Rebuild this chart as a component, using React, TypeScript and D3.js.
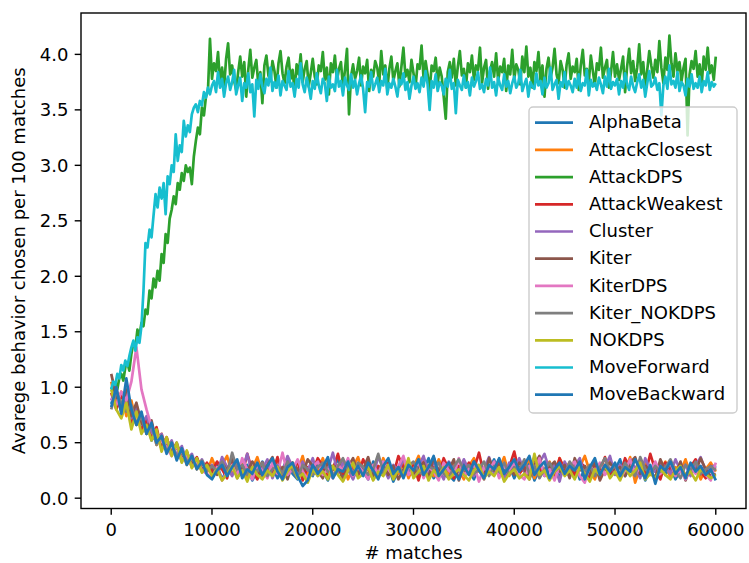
import React from "react";
import * as d3 from "d3";

// behaviour usage, one value per sample; samples are evenly spread over 0..60000 matches
const MAX_MATCHES = 60000;

const alphaBeta = [
  0.85, 0.98, 0.78, 0.9, 0.7, 0.8, 0.64, 0.72, 0.52, 0.6,
  0.45, 0.54, 0.4, 0.48, 0.33, 0.42, 0.28, 0.36, 0.24, 0.31,
  0.21, 0.29, 0.17, 0.26, 0.32, 0.2, 0.24, 0.3, 0.16, 0.25,
  0.33, 0.21, 0.28, 0.18, 0.26, 0.36, 0.22, 0.17, 0.29, 0.24,
  0.2, 0.32, 0.25, 0.16, 0.28, 0.35, 0.21, 0.26, 0.18, 0.3,
  0.24, 0.17, 0.33, 0.26, 0.21, 0.29, 0.15, 0.25, 0.32, 0.22,
  0.28, 0.2, 0.26, 0.36, 0.18, 0.25, 0.3, 0.21, 0.16, 0.28,
  0.32, 0.24, 0.17, 0.29, 0.22, 0.26, 0.35, 0.2, 0.25, 0.29,
  0.18, 0.28, 0.24, 0.32, 0.16, 0.26, 0.21, 0.3, 0.25, 0.2,
  0.29, 0.22, 0.33, 0.17, 0.26, 0.24, 0.32, 0.18, 0.28, 0.21,
  0.25, 0.35, 0.2, 0.28, 0.22, 0.3, 0.16, 0.26, 0.24, 0.32,
  0.21, 0.28, 0.17, 0.25, 0.33, 0.22, 0.29, 0.2, 0.26, 0.24,
  0.29,
];

const attackClosest = [
  1.05, 0.84, 0.96, 0.74, 0.88, 0.66, 0.76, 0.58, 0.68, 0.48,
  0.58, 0.42, 0.5, 0.36, 0.44, 0.3, 0.38, 0.26, 0.34, 0.23,
  0.36, 0.24, 0.3, 0.38, 0.21, 0.28, 0.33, 0.18, 0.26, 0.37,
  0.22, 0.29, 0.25, 0.35, 0.17, 0.28, 0.32, 0.24, 0.38, 0.2,
  0.3, 0.25, 0.36, 0.21, 0.29, 0.24, 0.33, 0.17, 0.28, 0.37,
  0.21, 0.32, 0.26, 0.2, 0.36, 0.25, 0.29, 0.22, 0.33, 0.18,
  0.28, 0.38, 0.24, 0.3, 0.2, 0.35, 0.26, 0.22, 0.32, 0.25,
  0.17, 0.29, 0.36, 0.24, 0.28, 0.21, 0.32, 0.26, 0.37, 0.2,
  0.3, 0.22, 0.28, 0.35, 0.18, 0.29, 0.25, 0.33, 0.21, 0.36,
  0.26, 0.32, 0.2, 0.28, 0.38, 0.24, 0.17, 0.3, 0.26, 0.35,
  0.22, 0.29, 0.25, 0.37, 0.14, 0.28, 0.32, 0.21, 0.3, 0.25,
  0.33, 0.18, 0.28, 0.24, 0.35, 0.21, 0.29, 0.17, 0.26, 0.32,
  0.24,
];

const attackDPS = [
  1.0, 0.96, 1.04, 0.98, 1.08, 1.12, 1.06, 1.18, 1.22, 1.15,
  1.3, 1.4, 1.36, 1.52, 1.46, 1.58, 1.55, 1.7, 1.66, 1.87,
  1.8, 1.98, 1.9, 2.05, 1.96, 2.2, 2.12, 2.38, 2.3, 2.52,
  2.6, 2.72, 2.65, 2.84, 2.78, 2.93, 2.86, 3.0, 2.94, 2.98,
  2.83, 3.08, 3.22, 3.34, 3.28, 3.52, 3.45, 3.62, 3.67, 4.14,
  3.78, 3.92, 3.85, 4.02, 3.74, 3.88, 3.7, 3.96, 4.1, 3.82,
  3.9, 3.76, 3.68, 3.84, 3.98, 3.8, 3.93, 3.62, 3.86, 4.04,
  3.79, 3.88, 3.95, 3.72, 3.84, 3.56, 3.9, 3.99, 3.81, 3.76,
  3.94, 3.85, 3.7, 3.92, 4.03, 3.83, 3.74, 3.89, 3.97, 3.78,
  3.86, 3.66, 3.91, 3.82, 4.0, 3.75, 3.87, 3.94, 3.71, 3.83,
  3.96, 3.8, 3.73, 3.9, 3.85, 4.02, 3.77, 3.88, 3.64, 3.92,
  3.84, 3.99, 3.76, 3.87, 3.93, 3.7, 3.86, 4.05, 3.46, 3.8,
  3.91, 3.78, 3.85, 3.97, 3.72, 3.89, 3.83, 3.95, 3.67, 3.86,
  3.8, 3.94, 3.88, 3.74, 4.03, 3.82, 3.9, 3.69, 3.87, 3.98,
  3.76, 3.85, 3.92, 3.71, 3.89, 4.06, 3.8, 3.86, 3.75, 3.95,
  3.83, 3.7, 3.91, 3.87, 4.08, 3.78, 3.94, 3.82, 3.66, 3.9,
  3.85, 3.97, 3.74, 3.88, 3.8, 3.62, 3.42, 3.84, 3.93, 3.79,
  3.96, 3.72, 3.89, 4.03, 3.81, 3.87, 3.7, 3.92, 3.84, 3.99,
  3.77, 3.9, 3.86, 4.06, 3.74, 3.88, 3.95, 3.69, 3.85, 3.93,
  3.8, 4.01, 3.76, 3.89, 3.84, 3.96, 3.67, 3.9, 3.82, 4.04,
  3.78, 3.91, 3.86, 3.73, 3.98, 3.84, 4.07, 3.8, 3.88, 3.7,
  3.93, 3.85, 4.02, 3.76, 3.9, 3.62, 3.87, 3.97, 3.79, 3.88,
  4.05, 3.82, 3.74, 3.94, 3.86, 3.7, 3.91, 4.01, 3.78, 3.89,
  3.84, 3.96, 3.68, 3.9, 4.04, 3.81, 3.87, 3.75, 3.99, 3.85,
  3.72, 3.92, 3.86, 4.06, 3.79, 3.88, 3.95, 3.7, 3.84, 4.02,
  3.8, 3.91, 3.77, 3.87, 3.98, 3.66, 3.89, 4.05, 3.83, 3.94,
  3.76, 3.88, 4.09, 3.82, 3.93, 3.71, 3.86, 4.03, 3.9, 3.79,
  3.95, 3.84, 4.12, 3.88, 3.74, 3.97, 3.86, 4.17, 3.92, 3.8,
  4.01, 3.85, 3.93, 3.76, 3.88, 3.96, 3.27, 3.82, 3.94, 3.87,
  4.03, 3.8, 3.91, 3.72, 3.98, 3.86, 4.06, 3.83, 3.9, 3.77,
  3.98,
];

const attackWeakest = [
  0.95, 0.8, 0.92, 0.86, 0.68, 0.78, 0.62, 0.7, 0.54, 0.64,
  0.44, 0.55, 0.4, 0.47, 0.34, 0.42, 0.29, 0.37, 0.25, 0.32,
  0.24, 0.33, 0.26, 0.18, 0.36, 0.29, 0.21, 0.4, 0.25, 0.17,
  0.32, 0.26, 0.22, 0.37, 0.2, 0.3, 0.25, 0.33, 0.16, 0.28,
  0.24, 0.36, 0.29, 0.18, 0.26, 0.4, 0.22, 0.3, 0.25, 0.2,
  0.35, 0.26, 0.17, 0.29, 0.24, 0.32, 0.21, 0.38, 0.28, 0.22,
  0.3, 0.16, 0.33, 0.25, 0.28, 0.21, 0.36, 0.26, 0.18, 0.29,
  0.24, 0.32, 0.26, 0.41, 0.21, 0.29, 0.25, 0.35, 0.17, 0.28,
  0.42, 0.22, 0.29, 0.2, 0.37, 0.26, 0.24, 0.3, 0.18, 0.36,
  0.25, 0.29, 0.21, 0.33, 0.28, 0.17, 0.32, 0.25, 0.37, 0.22,
  0.29, 0.2, 0.36, 0.26, 0.24, 0.33, 0.21, 0.4, 0.25, 0.17,
  0.32, 0.26, 0.22, 0.3, 0.2, 0.28, 0.35, 0.24, 0.18, 0.29,
  0.26,
];

const cluster = [
  0.88, 1.0, 0.8, 0.92, 0.72, 0.84, 0.66, 0.74, 0.6, 0.52,
  0.58, 0.44, 0.52, 0.38, 0.47, 0.33, 0.4, 0.27, 0.35, 0.24,
  0.3, 0.22, 0.37, 0.28, 0.2, 0.32, 0.25, 0.4, 0.21, 0.29,
  0.26, 0.35, 0.18, 0.3, 0.24, 0.38, 0.28, 0.21, 0.33, 0.25,
  0.36, 0.2, 0.29, 0.25, 0.41, 0.22, 0.32, 0.26, 0.17, 0.3,
  0.25, 0.33, 0.21, 0.37, 0.28, 0.18, 0.3, 0.24, 0.35, 0.26,
  0.2, 0.29, 0.38, 0.22, 0.32, 0.26, 0.17, 0.33, 0.28, 0.24,
  0.35, 0.25, 0.2, 0.3, 0.26, 0.37, 0.22, 0.29, 0.18, 0.32,
  0.26, 0.36, 0.24, 0.28, 0.21, 0.32, 0.4, 0.25, 0.3, 0.15,
  0.33, 0.24, 0.29, 0.36, 0.2, 0.26, 0.32, 0.22, 0.28, 0.38,
  0.21, 0.3, 0.25, 0.33, 0.28, 0.18, 0.36, 0.26, 0.24, 0.32,
  0.28, 0.22, 0.35, 0.25, 0.3, 0.2, 0.29, 0.37, 0.24, 0.28,
  0.3,
];

const kiter = [
  1.12, 0.92, 0.82, 0.98, 0.74, 0.86, 0.68, 0.62, 0.7, 0.5,
  0.56, 0.46, 0.41, 0.5, 0.36, 0.4, 0.31, 0.36, 0.26, 0.3,
  0.28, 0.21, 0.32, 0.25, 0.36, 0.18, 0.29, 0.24, 0.33, 0.26,
  0.2, 0.3, 0.37, 0.22, 0.28, 0.17, 0.32, 0.26, 0.21, 0.35,
  0.29, 0.24, 0.18, 0.33, 0.26, 0.3, 0.16, 0.28, 0.36, 0.22,
  0.26, 0.37, 0.2, 0.25, 0.32, 0.21, 0.29, 0.17, 0.26, 0.33,
  0.22, 0.28, 0.32, 0.18, 0.37, 0.24, 0.29, 0.25, 0.35, 0.16,
  0.29, 0.21, 0.33, 0.26, 0.17, 0.36, 0.25, 0.3, 0.22, 0.28,
  0.21, 0.32, 0.26, 0.17, 0.3, 0.38, 0.2, 0.28, 0.33, 0.24,
  0.3, 0.18, 0.36, 0.25, 0.29, 0.21, 0.33, 0.16, 0.26, 0.32,
  0.24, 0.28, 0.2, 0.32, 0.37, 0.22, 0.29, 0.25, 0.18, 0.35,
  0.25, 0.3, 0.21, 0.33, 0.16, 0.28, 0.24, 0.36, 0.26, 0.2,
  0.22,
];

const kiterDPS = [
  0.9, 0.84, 0.96, 0.88, 1.05, 1.36, 0.98, 0.8, 0.64, 0.58,
  0.52, 0.46, 0.38, 0.48, 0.34, 0.4, 0.28, 0.34, 0.25, 0.22,
  0.18, 0.28, 0.16, 0.24, 0.3, 0.2, 0.36, 0.26, 0.17, 0.29,
  0.25, 0.18, 0.32, 0.22, 0.41, 0.21, 0.26, 0.35, 0.24, 0.17,
  0.28, 0.33, 0.21, 0.26, 0.18, 0.3, 0.25, 0.36, 0.2, 0.29,
  0.24, 0.17, 0.3, 0.22, 0.33, 0.26, 0.2, 0.29, 0.38, 0.21,
  0.26, 0.33, 0.18, 0.28, 0.24, 0.16, 0.32, 0.25, 0.21, 0.36,
  0.2, 0.26, 0.3, 0.15, 0.28, 0.24, 0.33, 0.18, 0.29, 0.25,
  0.32, 0.21, 0.17, 0.29, 0.25, 0.36, 0.2, 0.26, 0.16, 0.3,
  0.22, 0.28, 0.33, 0.2, 0.14, 0.29, 0.24, 0.32, 0.21, 0.26,
  0.3, 0.17, 0.25, 0.35, 0.21, 0.28, 0.18, 0.24, 0.33, 0.22,
  0.26, 0.32, 0.2, 0.25, 0.17, 0.29, 0.22, 0.28, 0.21, 0.16,
  0.32,
];

const kiterNOKDPS = [
  0.8, 0.96, 0.86, 0.78, 0.84, 0.66, 0.74, 0.58, 0.66, 0.48,
  0.56, 0.42, 0.5, 0.37, 0.44, 0.32, 0.38, 0.27, 0.34, 0.25,
  0.29, 0.25, 0.33, 0.22, 0.41, 0.26, 0.3, 0.21, 0.28, 0.24,
  0.32, 0.2, 0.26, 0.29, 0.22, 0.33, 0.25, 0.18, 0.3, 0.26,
  0.21, 0.28, 0.32, 0.24, 0.2, 0.29, 0.36, 0.25, 0.22, 0.32,
  0.28, 0.21, 0.26, 0.4, 0.24, 0.3, 0.2, 0.28, 0.22, 0.29,
  0.33, 0.24, 0.21, 0.29, 0.26, 0.32, 0.22, 0.18, 0.28, 0.35,
  0.25, 0.3, 0.22, 0.26, 0.33, 0.2, 0.29, 0.24, 0.32, 0.21,
  0.28, 0.25, 0.35, 0.22, 0.29, 0.18, 0.26, 0.32, 0.24, 0.28,
  0.21, 0.33, 0.26, 0.29, 0.24, 0.3, 0.2, 0.28, 0.36, 0.25,
  0.29, 0.22, 0.32, 0.25, 0.2, 0.37, 0.26, 0.22, 0.29, 0.24,
  0.28, 0.35, 0.24, 0.18, 0.3, 0.25, 0.33, 0.22, 0.26, 0.29,
  0.25,
];

const nokDPS = [
  0.98, 0.8, 0.72, 0.86, 0.62, 0.78, 0.58, 0.66, 0.52, 0.62,
  0.42, 0.55, 0.38, 0.5, 0.32, 0.43, 0.27, 0.36, 0.23, 0.3,
  0.2, 0.26, 0.16, 0.22, 0.29, 0.18, 0.25, 0.15, 0.28, 0.21,
  0.17, 0.25, 0.2, 0.28, 0.16, 0.24, 0.3, 0.18, 0.22, 0.14,
  0.26, 0.2, 0.24, 0.17, 0.29, 0.21, 0.15, 0.25, 0.32, 0.18,
  0.22, 0.28, 0.16, 0.24, 0.2, 0.3, 0.17, 0.26, 0.21, 0.36,
  0.18, 0.24, 0.29, 0.16, 0.25, 0.2, 0.28, 0.17, 0.22, 0.26,
  0.21, 0.16, 0.25, 0.3, 0.18, 0.24, 0.2, 0.28, 0.15, 0.22,
  0.26, 0.18, 0.22, 0.17, 0.4, 0.21, 0.25, 0.16, 0.24, 0.29,
  0.2, 0.25, 0.17, 0.28, 0.22, 0.15, 0.26, 0.21, 0.3, 0.18,
  0.24, 0.16, 0.28, 0.2, 0.25, 0.32, 0.17, 0.22, 0.18, 0.26,
  0.21, 0.17, 0.25, 0.29, 0.2, 0.24, 0.16, 0.26, 0.22, 0.18,
  0.21,
];

const moveForward = [
  0.98, 1.05, 1.02, 1.12, 1.08, 1.2, 1.15, 1.24, 1.19, 1.28,
  1.36, 1.42, 1.33, 1.45, 1.4, 1.55, 1.87, 2.3, 2.26, 2.42,
  2.35, 2.55, 2.74, 2.62, 2.8, 2.7, 2.84, 2.56, 2.9, 2.83,
  3.0, 2.94, 3.28, 3.04, 3.18, 3.12, 3.4, 3.26, 3.36, 3.3,
  3.46, 3.52, 3.55, 3.48, 3.58, 3.54, 3.66, 3.61, 3.7, 3.64,
  3.72, 3.76, 3.66, 3.84, 3.7, 3.78, 3.62, 3.74, 3.8, 3.68,
  3.75, 3.86, 3.64, 3.72, 3.79, 3.58, 3.74, 3.7, 3.83, 3.66,
  3.73, 3.44, 3.77, 3.69, 3.82, 3.71, 3.65, 3.78, 3.72, 3.88,
  3.67, 3.75, 3.7, 3.81, 3.63, 3.76, 3.72, 3.68, 3.85, 3.71,
  3.74, 3.62, 3.78, 3.7, 3.92, 3.73, 3.66, 3.79, 3.71, 3.6,
  3.76, 3.69, 3.83, 3.72, 3.65, 3.78, 3.74, 3.58, 3.8, 3.7,
  3.73, 3.67, 3.86, 3.71, 3.76, 3.63, 3.79, 3.72, 3.68, 3.82,
  3.7, 3.77, 3.64, 3.74, 3.81, 3.69, 3.48, 3.75, 3.71, 3.84,
  3.68, 3.73, 3.79, 3.66, 3.76, 3.72, 3.87, 3.64, 3.74, 3.7,
  3.78, 3.71, 3.62, 3.77, 3.73, 3.83, 3.68, 3.75, 3.6, 3.72,
  3.8, 3.69, 3.74, 3.66, 3.79, 3.71, 3.85, 3.73, 3.5, 3.76,
  3.7, 3.82, 3.67, 3.75, 3.72, 3.64, 3.78, 3.71, 3.86, 3.69,
  3.74, 3.47, 3.77, 3.72, 3.68, 3.81, 3.7, 3.75, 3.63, 3.79,
  3.71, 3.76, 3.84, 3.69, 3.73, 3.66, 3.78, 3.72, 3.88, 3.7,
  3.75, 3.63, 3.79, 3.72, 3.68, 3.82, 3.71, 3.76, 3.65, 3.74,
  3.8, 3.7, 3.74, 3.86, 3.67, 3.73, 3.78, 3.62, 3.75, 3.71,
  3.69, 3.83, 3.72, 3.76, 3.64, 3.79, 3.7, 3.74, 3.88, 3.68,
  3.73, 3.77, 3.6, 3.75, 3.71, 3.84, 3.69, 3.76, 3.72, 3.66,
  3.78, 3.7, 3.82, 3.67, 3.74, 3.72, 3.86, 3.63, 3.77, 3.71,
  3.74, 3.68, 3.79, 3.73, 3.65, 3.8, 3.71, 3.87, 3.69, 3.75,
  3.72, 3.78, 3.64, 3.76, 3.7, 3.83, 3.73, 3.68, 3.8, 3.71,
  3.66, 3.75, 3.82, 3.7, 3.77, 3.62, 3.74, 3.85, 3.71, 3.73,
  3.79, 3.68, 3.74, 3.45, 3.72, 3.8, 3.69, 3.9, 3.73, 3.76,
  3.7, 3.84, 3.67, 3.75, 3.72, 3.63, 3.78, 3.71, 3.82, 3.69,
  3.74, 3.7, 3.8, 3.66, 3.76, 3.72, 3.84, 3.68, 3.75, 3.71,
  3.74,
];

const moveBackward = [
  0.82, 1.0, 0.76, 1.08, 0.8, 0.66, 0.78, 0.58, 0.68, 0.5,
  0.56, 0.4, 0.5, 0.34, 0.45, 0.3, 0.38, 0.26, 0.33, 0.21,
  0.17, 0.25, 0.3, 0.2, 0.28, 0.35, 0.18, 0.26, 0.22, 0.32,
  0.21, 0.29, 0.36, 0.24, 0.17, 0.28, 0.32, 0.2, 0.11, 0.16,
  0.3, 0.22, 0.28, 0.37, 0.18, 0.26, 0.24, 0.33, 0.21, 0.29,
  0.2, 0.32, 0.25, 0.17, 0.29, 0.36, 0.22, 0.28, 0.18, 0.3,
  0.25, 0.35, 0.21, 0.28, 0.38, 0.2, 0.26, 0.32, 0.24, 0.17,
  0.29, 0.21, 0.33, 0.25, 0.18, 0.3, 0.26, 0.36, 0.22, 0.28,
  0.35, 0.24, 0.3, 0.38, 0.21, 0.28, 0.33, 0.18, 0.26, 0.32,
  0.22, 0.29, 0.25, 0.33, 0.17, 0.28, 0.36, 0.21, 0.3, 0.24,
  0.32, 0.2, 0.28, 0.24, 0.35, 0.26, 0.18, 0.3, 0.13, 0.29,
  0.25, 0.33, 0.22, 0.28, 0.18, 0.32, 0.24, 0.29, 0.21, 0.26,
  0.16,
];

const SERIES_NAMES = [
  "AlphaBeta", "AttackClosest", "AttackDPS", "AttackWeakest", "Cluster", "Kiter",
  "KiterDPS", "Kiter_NOKDPS", "NOKDPS", "MoveForward", "MoveBackward",
];
const SERIES_VALUES = [
  alphaBeta, attackClosest, attackDPS, attackWeakest, cluster, kiter,
  kiterDPS, kiterNOKDPS, nokDPS, moveForward, moveBackward,
];

const X_TICKS = [0, 10000, 20000, 30000, 40000, 50000, 60000];
const Y_TICKS = [0, 0.5, 1, 1.5, 2, 2.5, 3, 3.5, 4];

const X_LABEL = "# matches";
const Y_LABEL = "Avarege behavior chosen per 100 matches";

const W = 749;
const H = 563;
const FONT = "'DejaVu Sans', sans-serif";
const FS = 18;
const PLOT = { left: 81, right: 746, top: 13, bottom: 508.5 };

export default function App() {
  const series = SERIES_NAMES.map((name, k) => {
    const vals = SERIES_VALUES[k];
    const step = MAX_MATCHES / (vals.length - 1);
    return {
      name,
      color: d3.schemeCategory10[k % 10],
      points: vals.map((v, i) => [i * step, v] as [number, number]),
    };
  });

  const all = SERIES_VALUES.flat();
  const [yMin, yMax] = d3.extent(all) as [number, number];
  const yPad = (yMax - yMin) * 0.05;

  const x = d3
    .scaleLinear()
    .domain([-MAX_MATCHES * 0.05, MAX_MATCHES * 1.05])
    .range([PLOT.left, PLOT.right]);
  const y = d3
    .scaleLinear()
    .domain([yMin - yPad, yMax + yPad])
    .range([PLOT.bottom, PLOT.top]);

  const line = d3
    .line<[number, number]>()
    .x((d) => x(d[0]))
    .y((d) => y(d[1]));

  // legend box, placed where matplotlib's "best" put it
  const lg = { x: 529, y: 107, w: 208, h: 306, first: 122.7, pitch: 27.2 };

  return (
    <svg
      width={W}
      height={H}
      style={{ position: "absolute", left: 0, top: 0, background: "#fff" }}
      fontFamily={FONT}
    >
      <rect width={W} height={H} fill="#fff" />

      {series.map((s) => (
        <path
          key={s.name}
          d={line(s.points) || ""}
          fill="none"
          stroke={s.color}
          strokeWidth={2.7}
          strokeLinejoin="round"
        />
      ))}

      {/* spines */}
      <rect
        x={PLOT.left}
        y={PLOT.top}
        width={PLOT.right - PLOT.left}
        height={PLOT.bottom - PLOT.top}
        fill="none"
        stroke="#000"
        strokeWidth={1.4}
      />

      {/* x axis */}
      {X_TICKS.map((t) => (
        <g key={t} transform={`translate(${x(t)},${PLOT.bottom})`}>
          <line y2={6.3} stroke="#000" strokeWidth={1.4} />
          <text y={27.5} textAnchor="middle" fontSize={FS} fill="#000">
            {t}
          </text>
        </g>
      ))}
      <text x={(PLOT.left + PLOT.right) / 2} y={559} textAnchor="middle" fontSize={FS} fill="#000">
        {X_LABEL}
      </text>

      {/* y axis */}
      {Y_TICKS.map((t) => (
        <g key={t} transform={`translate(${PLOT.left},${y(t)})`}>
          <line x2={-6.3} stroke="#000" strokeWidth={1.4} />
          <text x={-12.6} y={6.5} textAnchor="end" fontSize={FS} fill="#000">
            {t.toFixed(1)}
          </text>
        </g>
      ))}
      <text
        transform={`translate(25,${(PLOT.top + PLOT.bottom) / 2}) rotate(-90)`}
        textAnchor="middle"
        fontSize={FS}
        fill="#000"
      >
        {Y_LABEL}
      </text>

      {/* legend */}
      <rect
        x={lg.x}
        y={lg.y}
        width={lg.w}
        height={lg.h}
        rx={4}
        fill="#fff"
        fillOpacity={0.8}
        stroke="#cccccc"
        strokeWidth={1.4}
      />
      {series.map((s, i) => {
        const cy = lg.first + i * lg.pitch;
        return (
          <g key={s.name}>
            <line x1={535} x2={573} y1={cy} y2={cy} stroke={s.color} strokeWidth={2.7} />
            <text x={589} y={cy + 5.7} fontSize={FS} fill="#000">
              {s.name}
            </text>
          </g>
        );
      })}
    </svg>
  );
}
